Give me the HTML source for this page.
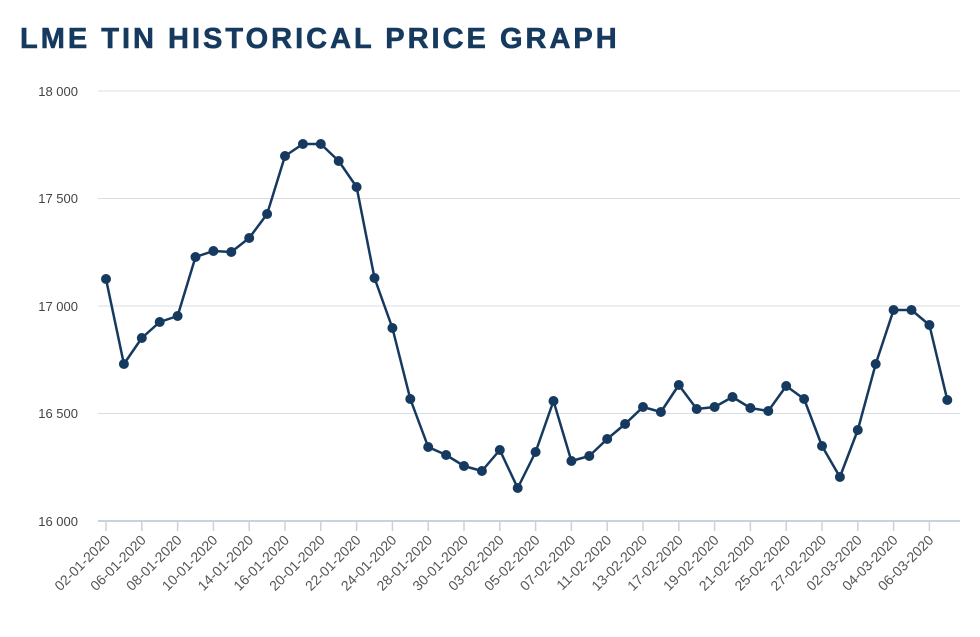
<!DOCTYPE html>
<html><head><meta charset="utf-8"><style>
body{margin:0;background:#fff;width:980px;height:632px;overflow:hidden;font-family:"Liberation Sans",sans-serif}
</style></head><body>
<svg width="980" height="632" viewBox="0 0 980 632" xmlns="http://www.w3.org/2000/svg" font-family="Liberation Sans, sans-serif">
<text x="20" y="48" font-size="29" font-weight="bold" fill="#163a5f" letter-spacing="3" stroke="#163a5f" stroke-width="0.6">LME TIN HISTORICAL PRICE GRAPH</text>
<g stroke="#d8dce2" stroke-width="1">
<line x1="98" y1="91" x2="960" y2="91"/><line x1="98" y1="198.5" x2="960" y2="198.5"/><line x1="98" y1="306" x2="960" y2="306"/><line x1="98" y1="413.5" x2="960" y2="413.5"/>
</g>
<line x1="98" y1="521" x2="960" y2="521" stroke="#c8d2de" stroke-width="2"/>
<g font-size="13" fill="#444" text-anchor="end">
<text x="78" y="96">18 000</text><text x="78" y="203">17 500</text><text x="78" y="311">17 000</text><text x="78" y="418">16 500</text><text x="78" y="526">16 000</text>
</g>
<g id="xt"></g>
<polyline id="ln" fill="none" stroke="#163a5f" stroke-width="2.5" stroke-linejoin="round"/>
<g id="pts" fill="#163a5f"></g>
</svg>
<script>
var ys=[279,364,338,322,316,257,251,252,238,214,156,144,144,161,187,278,328,399,447,455,466,471,450,488,452,401,461,456,439,424,407,412,385,409,407,397,408,411,386,399,446,477,430,364,310,310,325,400];
var labs=["02-01-2020","06-01-2020","08-01-2020","10-01-2020","14-01-2020","16-01-2020","20-01-2020","22-01-2020","24-01-2020","28-01-2020","30-01-2020","03-02-2020","05-02-2020","07-02-2020","11-02-2020","13-02-2020","17-02-2020","19-02-2020","21-02-2020","25-02-2020","27-02-2020","02-03-2020","04-03-2020","06-03-2020"];
var ns="http://www.w3.org/2000/svg",sp=17.9,pts=[],g=document.getElementById('pts');
ys.forEach(function(y,i){var x=106+i*sp;pts.push(x+","+y);var c=document.createElementNS(ns,'circle');c.setAttribute('cx',x);c.setAttribute('cy',y);c.setAttribute('r',5);g.appendChild(c);});
document.getElementById('ln').setAttribute('points',pts.join(' '));
var xt=document.getElementById('xt');
labs.forEach(function(l,i){var x=106+i*2*sp;
var t=document.createElementNS(ns,'line');t.setAttribute('x1',x);t.setAttribute('x2',x);t.setAttribute('y1',521);t.setAttribute('y2',531);t.setAttribute('stroke','#c8d2de');t.setAttribute('stroke-width','1.5');xt.appendChild(t);
var s=document.createElementNS(ns,'text');s.setAttribute('transform','translate('+(x+5)+',541) rotate(-45)');s.setAttribute('text-anchor','end');s.setAttribute('font-size','14');s.setAttribute('fill','#555');s.textContent=l;xt.appendChild(s);});
</script>
</body></html>
